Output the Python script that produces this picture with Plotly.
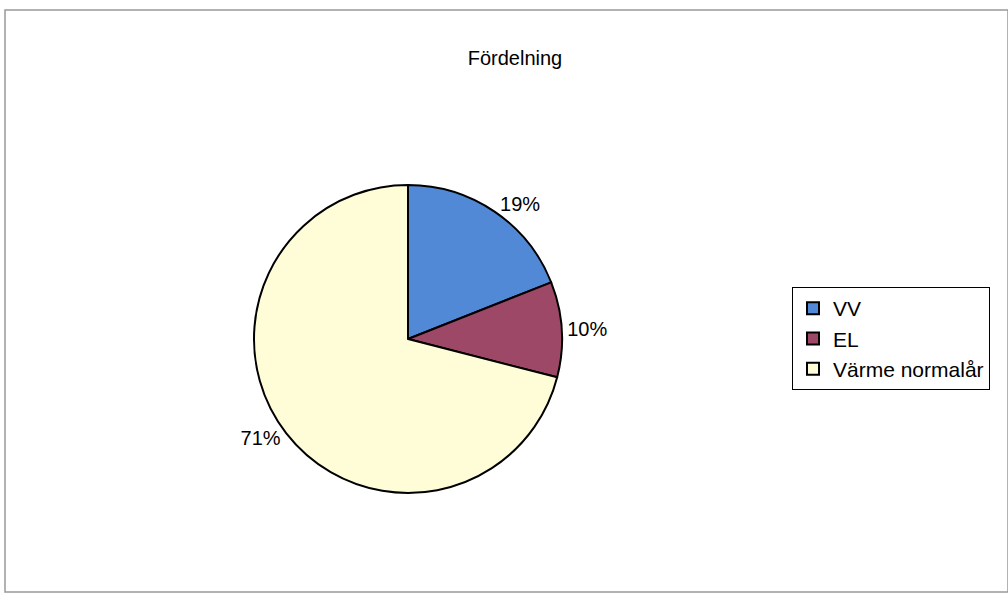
import plotly.graph_objects as go

categories = ["VV", "EL", "Värme normalår"]
values = [19, 10, 71]
colors = ["#5289D6", "#9C4866", "#FFFDD8"]

fig = go.Figure()
fig.add_trace(go.Pie(
    labels=categories,
    values=values,
    sort=False,
    direction="clockwise",
    rotation=0,
    marker=dict(colors=colors, line=dict(color="black", width=2)),
    textinfo="percent",
    texttemplate="%{percent:.0%}",
    textposition="outside",
    textfont=dict(family="Liberation Sans, Arial", size=20, color="black"),
    domain=dict(x=[253/1008, 563/1008], y=[1-493/595, 1-185/595]),
    hoverinfo="label+percent",
))

fig.update_layout(
    width=1008, height=595,
    margin=dict(l=0, r=0, t=0, b=0),
    paper_bgcolor="white",
    title=dict(text="Fördelning", x=515/1008, xanchor="center", y=1-58/595, yanchor="middle",
               font=dict(family="Liberation Sans, Arial", size=20, color="black")),
    legend=dict(x=792/1008, y=1-287/595, xanchor="left", yanchor="top",
                bordercolor="black", borderwidth=1, bgcolor="white",
                font=dict(family="Liberation Sans, Arial", size=21, color="black"),
                itemwidth=30, tracegroupgap=0),
    font=dict(family="Liberation Sans, Arial"),
    shapes=[dict(type="rect", xref="paper", yref="paper",
                 x0=5/1008, x1=1.0, y0=1-592/595, y1=1-10/595,
                 line=dict(color="#999999", width=1.5))],
)

fig.write_html("out.html", config={"displayModeBar": False},
               post_script="document.body.style.margin='0';document.body.style.overflow='hidden';")
